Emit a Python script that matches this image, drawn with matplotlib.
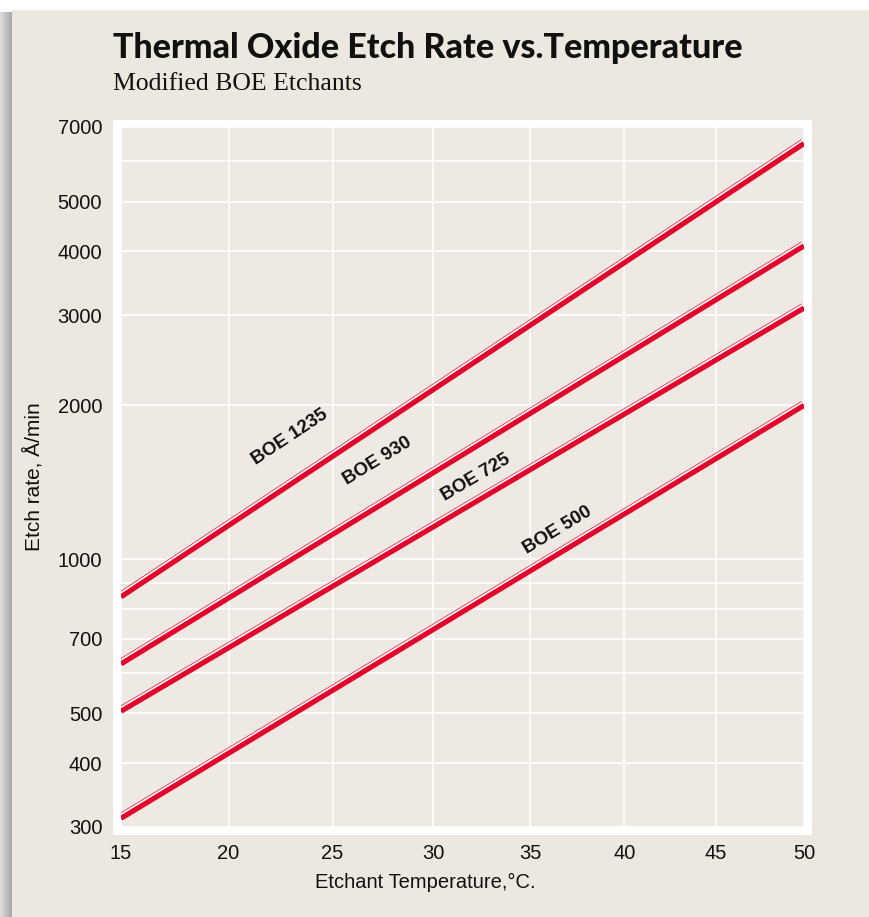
import numpy as np
import matplotlib
matplotlib.use("Agg")
import matplotlib.pyplot as plt
from matplotlib import patheffects as pe
from matplotlib.patches import Rectangle
from matplotlib.ticker import FixedLocator, FixedFormatter, NullFormatter

# Etch rate (Å/min) at both ends of the temperature range (°C)
temps = [15, 50]
boe_1235 = [845, 6500]
boe_930 = [625, 4100]
boe_725 = [505, 3100]
boe_500 = [312, 2000]
series = [("BOE 1235", boe_1235), ("BOE 930", boe_930),
          ("BOE 725", boe_725), ("BOE 500", boe_500)]

x_ticks = [15, 20, 25, 30, 35, 40, 45, 50]
y_ticks = [300, 400, 500, 700, 1000, 2000, 3000, 4000, 5000, 7000]
y_minor = [600, 800, 900, 6000]

W, H = 869, 917
CARD = "#ece8df"
PLOT_BG = "#eeeae3"
RED = "#e2062c"
PINK = "#e9506c"
NARROW = ["Liberation Sans Narrow", "Liberation Sans", "DejaVu Sans"]

fig = plt.figure(figsize=(W / 100, H / 100), dpi=100)
fig.patch.set_facecolor("white")


def fx(px):
    return px / W


def fy(py):
    return 1 - py / H


def rect(x0, y0, x1, y1, color, z):
    fig.patches.append(Rectangle((fx(x0), fy(y1)), (x1 - x0) / W, (y1 - y0) / H,
                                 transform=fig.transFigure, facecolor=color,
                                 edgecolor="none", zorder=z))


# card with a soft shadow on its left edge
rect(12, 10, W, H, CARD, -10)
shades = np.linspace(0.86, 0.66, 12)
for i, s in enumerate(shades):
    rect(i, 12, i + 1, H, (s, s, s), -10)

# white frame around the plotting area
rect(113, 120, 812, 835, "white", -5)

ax = fig.add_axes([fx(121), fy(827), 683 / W, 700 / H])
ax.set_facecolor(PLOT_BG)

# reciprocal absolute temperature on the x axis, log rate on the y axis
ax.set_xscale("function", functions=(lambda t: -1.0 / (np.asarray(t) + 273.15),
                                     lambda u: -1.0 / np.asarray(u) - 273.15))
ax.set_yscale("log")
ax.set_xlim(15, 50)
ax.set_ylim(300, 7000)

ax.xaxis.set_major_locator(FixedLocator(x_ticks))
ax.xaxis.set_major_formatter(FixedFormatter([str(t) for t in x_ticks]))
ax.xaxis.set_minor_locator(FixedLocator([]))
ax.yaxis.set_major_locator(FixedLocator(y_ticks))
ax.yaxis.set_major_formatter(FixedFormatter([str(t) for t in y_ticks]))
ax.yaxis.set_minor_locator(FixedLocator(y_minor))
ax.yaxis.set_minor_formatter(NullFormatter())

ax.grid(True, which="both", color="white", linewidth=1.1)
ax.set_axisbelow(True)
ax.tick_params(which="both", length=0)
ax.tick_params(axis="y", pad=13.5)
ax.tick_params(axis="x", pad=12)
for lab in ax.get_xticklabels() + ax.get_yticklabels():
    lab.set_fontfamily(NARROW)
    lab.set_fontsize(14.5)
    lab.set_color("#111111")
for sp in ax.spines.values():
    sp.set_visible(False)

# etch-rate lines: red stroke with a white gap and a thin pink edge above
label_pos = [(0.2474, 0.5571), (0.3748, 0.5229), (0.5198, 0.4986), (0.6398, 0.4243)]
for (name, vals), (lx, ly) in zip(series, label_pos):
    p = ax.transData.transform(np.column_stack([temps, vals]))
    ang = np.arctan2(p[1, 1] - p[0, 1], p[1, 0] - p[0, 0])
    nx, ny = -np.sin(ang), np.cos(ang)
    k = 0.72  # px -> pt
    effects = [
        pe.Stroke(offset=(nx * 4.6 * k, ny * 4.6 * k), linewidth=1.2 * k, foreground=PINK),
        pe.Stroke(offset=(nx * 3.3 * k, ny * 3.3 * k), linewidth=1.5 * k, foreground="white"),
        pe.Normal(),
    ]
    ax.plot(temps, vals, color=RED, linewidth=5.2 * k, solid_capstyle="butt",
            path_effects=effects, zorder=3)
    ax.text(lx, ly, name, transform=ax.transAxes, rotation=np.degrees(ang),
            rotation_mode="anchor", ha="center", va="center",
            fontfamily=NARROW, fontweight="bold", fontsize=13.5, color="#111111", zorder=4)

# titles and axis labels
fig.text(fx(113), fy(58), "Thermal Oxide Etch Rate vs.Temperature",
         fontfamily=["Lato", "DejaVu Sans"], fontweight="black", fontsize=24.5,
         color="#111111", ha="left", va="baseline")
fig.text(fx(113), fy(90), "Modified BOE Etchants",
         fontfamily=["Liberation Serif", "DejaVu Serif"], fontsize=18.5,
         color="#111111", ha="left", va="baseline")
fig.text(fx(33), fy(477), "Etch rate, Å/min", rotation=90, ha="center", va="center",
         fontfamily=NARROW, fontsize=15, color="#111111")
fig.text(fx(425), fy(882), "Etchant Temperature,°C.", ha="center", va="center",
         fontfamily=NARROW, fontsize=14.5, color="#111111")

fig.savefig("out.png", dpi=100, facecolor=fig.get_facecolor())
